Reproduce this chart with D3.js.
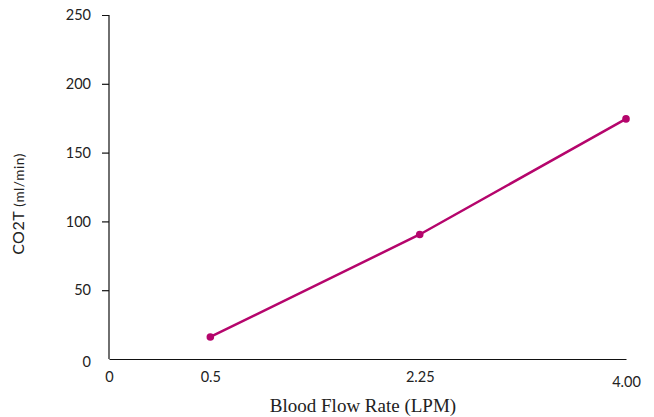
<!DOCTYPE html>
<html>
<head>
<meta charset="utf-8">
<script src="https://cdn.jsdelivr.net/npm/d3@7"></script>
<style>
  body { margin: 0; background: #fff; }
  svg { display: block; }
</style>
</head>
<body>
<svg id="chart" width="654" height="417"></svg>
<script>
// Data
const flowTicks = [0, 0.5, 2.25, 4.00];
const flowLabels = ["0", "0.5", "2.25", "4.00"];
const flowRates = [0.5, 2.25, 4.00];
const co2Values = [16, 90.5, 174.5];
const yTicks = [0, 50, 100, 150, 200, 250];

const width = 654;
const height = 417;
const margin = { top: 15, right: 28, bottom: 58, left: 109 };
const plotWidth = width - margin.left - margin.right;
const plotHeight = height - margin.top - margin.bottom;
const color = "#b5056c";

const svg = d3.select("#chart");
const g = svg.append("g").attr("transform", `translate(${margin.left},${margin.top})`);

// x positions of the tick values are unevenly spaced in the original
const xScale = d3.scaleLinear()
  .domain(flowTicks)
  .range([0, 0.196, 0.601, 1].map(f => f * plotWidth));

const yScale = d3.scaleLinear()
  .domain([0, 250])
  .range([plotHeight, 0]);

// y axis
const yAxis = g.append("g")
  .call(d3.axisLeft(yScale).tickValues(yTicks).tickSize(7).tickPadding(11));
yAxis.select(".domain").attr("stroke", "#111").attr("stroke-width", 1.2).attr("d", `M-7,0.5H0V${plotHeight}`);
yAxis.selectAll(".tick line").attr("stroke", "#111").attr("stroke-width", 1.2);
yAxis.selectAll(".tick text")
  .style("font-family", "Lato, 'Noto Sans', sans-serif")
  .style("font-size", "14.5px")
  .attr("fill", "#222")
  .attr("dy", (d) => d === 0 ? "0.5em" : "0.32em");
yAxis.selectAll(".tick").filter(d => d === 0).select("line").remove();
yAxis.selectAll(".tick").filter(d => d === 250).select("line").remove();

// x axis (no tick marks)
const xAxis = g.append("g")
  .attr("transform", `translate(0,${plotHeight})`)
  .call(d3.axisBottom(xScale).tickValues(flowTicks).tickFormat((d, i) => flowLabels[i]).tickSize(0).tickPadding(13));
xAxis.select(".domain").attr("stroke", "#111").attr("stroke-width", 1.2);
xAxis.selectAll(".tick text")
  .style("font-family", "Lato, 'Noto Sans', sans-serif")
  .style("font-size", "14.5px")
  .attr("fill", "#222")
  .attr("dy", (d, i) => i === flowTicks.length - 1 ? "1.0em" : "0.71em");

// line
const line = d3.line()
  .x((d, i) => xScale(flowRates[i]))
  .y(d => yScale(d));

g.append("path")
  .datum(co2Values)
  .attr("fill", "none")
  .attr("stroke", color)
  .attr("stroke-width", 2.5)
  .attr("d", line);

g.selectAll(".point")
  .data(co2Values)
  .enter()
  .append("circle")
  .attr("class", "point")
  .attr("cx", (d, i) => xScale(flowRates[i]))
  .attr("cy", d => yScale(d))
  .attr("r", 3.8)
  .attr("fill", color);

// x axis title
svg.append("text")
  .attr("x", 363)
  .attr("y", 412)
  .style("text-anchor", "middle")
  .style("font-family", "'Liberation Serif', 'DejaVu Serif', serif")
  .style("font-size", "19px")
  .attr("fill", "#222")
  .text("Blood Flow Rate (LPM)");

// y axis title
const yTitle = svg.append("text")
  .attr("transform", "translate(24,204) rotate(-90)")
  .style("text-anchor", "middle")
  .style("font-family", "Lato, 'Noto Sans', sans-serif")
  .attr("fill", "#222");
yTitle.append("tspan").style("font-size", "16px").style("letter-spacing", "0.5px").text("CO2T ");
yTitle.append("tspan").style("font-size", "13.5px").style("letter-spacing", "0.6px").text("(ml/min)");
</script>
</body>
</html>
